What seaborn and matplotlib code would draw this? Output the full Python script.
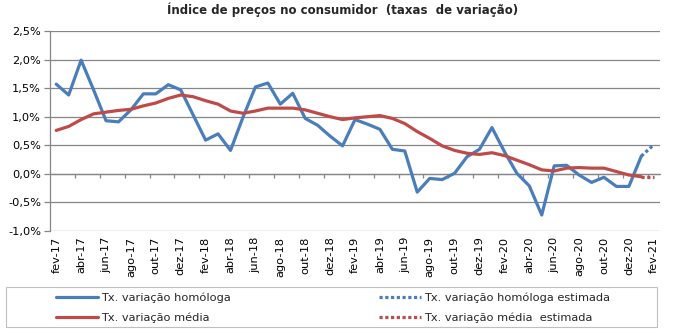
import numpy as np
import pandas as pd
import matplotlib
matplotlib.use("Agg")
import matplotlib.pyplot as plt
import seaborn as sns
from matplotlib.patches import Rectangle
from matplotlib.ticker import FuncFormatter

# ---------------- data ----------------
tick_labels = ["fev-17", "abr-17", "jun-17", "ago-17", "out-17", "dez-17",
               "fev-18", "abr-18", "jun-18", "ago-18", "out-18", "dez-18",
               "fev-19", "abr-19", "jun-19", "ago-19", "out-19", "dez-19",
               "fev-20", "abr-20", "jun-20", "ago-20", "out-20", "dez-20",
               "fev-21"]

homologa = [1.57, 1.38, 1.99, 1.47, 0.93, 0.91, 1.12, 1.40, 1.40, 1.56, 1.47, 1.03,
            0.59, 0.70, 0.41, 0.99, 1.52, 1.59, 1.22, 1.41, 0.97, 0.85, 0.66, 0.49,
            0.95, 0.87, 0.78, 0.43, 0.40, -0.32, -0.08, -0.10, 0.01, 0.30, 0.43, 0.81,
            0.39, 0.01, -0.21, -0.72, 0.14, 0.15, -0.02, -0.15, -0.06, -0.22, -0.22, 0.31]
homologa_est = [0.31, 0.51]

media = [0.76, 0.83, 0.95, 1.05, 1.08, 1.11, 1.13, 1.19, 1.24, 1.32, 1.38, 1.35,
         1.28, 1.22, 1.10, 1.06, 1.10, 1.15, 1.15, 1.15, 1.12, 1.06, 1.00, 0.95,
         0.98, 1.00, 1.02, 0.97, 0.88, 0.74, 0.62, 0.49, 0.41, 0.36, 0.34, 0.37,
         0.32, 0.24, 0.16, 0.07, 0.05, 0.10, 0.11, 0.10, 0.10, 0.04, -0.02, -0.05]
media_est = [-0.05, -0.05]

labels = ["Tx. variação homóloga", "Tx. variação média",
          "Tx. variação homóloga estimada", "Tx. variação média  estimada"]
title = "Índice de preços no consumidor  (taxas  de variação)"

# ---------------- style ----------------
sns.set_theme(style="white")
plt.rcParams['font.family'] = ['DejaVu Sans']

BLUE = "#4A7EBB"
RED = "#BE4B48"
GRID = "#868686"
FS = 8.2

W, H = 681, 333
fig = plt.figure(figsize=(W / 100, H / 100), dpi=100)
ax = fig.add_axes([50 / W, 1 - 231 / H, 610 / W, 200 / H])

n = len(homologa)
x_main = np.arange(n)
x_est = np.arange(n - 1, n + 1)

df_h = pd.DataFrame({"x": x_main, "v": homologa})
df_he = pd.DataFrame({"x": x_est, "v": homologa_est})
df_m = pd.DataFrame({"x": x_main, "v": media})
df_me = pd.DataFrame({"x": x_est, "v": media_est})

LW = 2.3
dot = (0, (1.0, 0.8))
sns.lineplot(data=df_h, x="x", y="v", ax=ax, color=BLUE, lw=LW, label=labels[0])
sns.lineplot(data=df_he, x="x", y="v", ax=ax, color=BLUE, lw=LW, label=labels[2],
             linestyle=dot, dash_capstyle="butt")
sns.lineplot(data=df_m, x="x", y="v", ax=ax, color=RED, lw=LW, label=labels[1])
sns.lineplot(data=df_me, x="x", y="v", ax=ax, color=RED, lw=LW, label=labels[3],
             linestyle=dot, dash_capstyle="butt")

handles, labs = ax.get_legend_handles_labels()
ax.get_legend().remove()
order = [labs.index(l) for l in labels]
handles = [handles[i] for i in order]

# y axis
ax.set_ylim(-1.0, 2.5)
ax.set_yticks(np.arange(-1.0, 2.51, 0.5))
ax.yaxis.set_major_formatter(FuncFormatter(lambda v, p: f"{v:.1f}%".replace(".", ",")))
ax.yaxis.grid(True, color=GRID, lw=0.9)
ax.set_axisbelow(True)
ax.tick_params(axis="y", left=True, length=4, width=0.9, color=GRID, pad=2.5,
               labelsize=FS, labelcolor="black")
ax.set_ylabel("")

# x axis
ax.set_xlim(-0.5, n + 0.5)
ax.set_xticks(np.arange(0, n + 1, 2))
ax.set_xticklabels(tick_labels, rotation=90)
ax.tick_params(axis="x", bottom=True, length=0, pad=4, labelsize=FS, labelcolor="black")
ax.set_xlabel("")

for s in ["top", "right", "bottom"]:
    ax.spines[s].set_visible(False)
ax.spines["left"].set_color(GRID)
ax.spines["left"].set_linewidth(0.9)

# category axis line crossing at 0%
ymin, ymax = ax.get_ylim()
secax = ax.secondary_xaxis((0 - ymin) / (ymax - ymin))
secax.set_xticks(np.arange(1.5, n + 0.6, 2))
secax.set_xticklabels([])
secax.tick_params(axis="x", direction="out", length=3, width=0.9, color=GRID)
secax.spines["bottom"].set_color(GRID)
secax.spines["bottom"].set_linewidth(0.9)

# title
fig.text(343 / W, 1 - 10 / H, title, ha="center", va="center",
         fontsize=8.5, fontweight="bold")

# legend
fig.add_artist(Rectangle((6 / W, 1 - 327 / H), 651 / W, 40 / H,
                         transform=fig.transFigure, fill=False,
                         edgecolor="#BFBFBF", lw=0.8))
fig.legend(handles, labels, loc="center", bbox_to_anchor=(333 / W, 1 - 307.5 / H),
           ncol=2, frameon=False, handlelength=3.7, handletextpad=0.25,
           columnspacing=13.0, labelspacing=0.8, fontsize=FS)

fig.savefig("out.png", dpi=100)
